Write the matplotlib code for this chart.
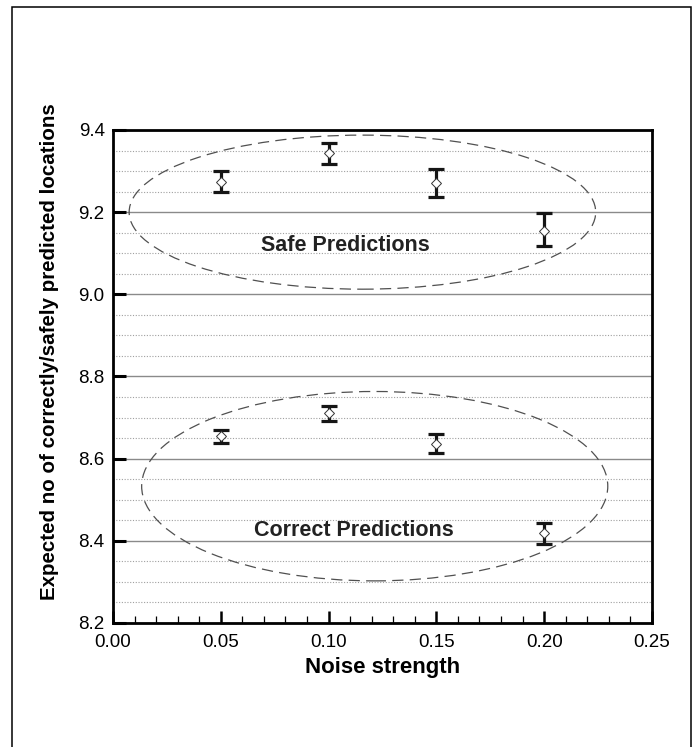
import matplotlib
matplotlib.use("Agg")
import matplotlib.pyplot as plt
from matplotlib.patches import Ellipse, Rectangle
from matplotlib.ticker import MultipleLocator, FormatStrFormatter

plt.rcParams["font.family"] = ["Liberation Sans", "DejaVu Sans"]

noise = [0.05, 0.10, 0.15, 0.20]

safe_mean = [9.274, 9.344, 9.271, 9.155]
safe_low  = [9.248, 9.318, 9.236, 9.117]
safe_high = [9.300, 9.368, 9.304, 9.197]

corr_mean = [8.654, 8.711, 8.636, 8.418]
corr_low  = [8.637, 8.692, 8.614, 8.392]
corr_high = [8.669, 8.728, 8.661, 8.444]

fig = plt.figure(figsize=(6.97, 7.47), dpi=100)
ax = fig.add_axes([0.1621, 0.166, 0.7733, 0.66])

# outer frame around the whole figure
fig.patches.append(Rectangle((0.0172, -0.01), 0.9742, 1.0006, transform=fig.transFigure,
                             fill=False, edgecolor="black", linewidth=1.1))

ax.set_xlim(0.0, 0.25)
ax.set_ylim(8.2, 9.4)
ax.xaxis.set_major_locator(MultipleLocator(0.05))
ax.xaxis.set_minor_locator(MultipleLocator(0.01))
ax.yaxis.set_major_locator(MultipleLocator(0.2))
ax.yaxis.set_minor_locator(MultipleLocator(0.05))

ax.grid(which="major", axis="y", color="#8a8a8a", linestyle="-", linewidth=1.0)
ax.grid(which="minor", axis="y", color="#a0a0a0", linestyle=(0, (1, 1.5)), linewidth=0.8)
ax.set_axisbelow(True)

ax.tick_params(axis="x", which="major", direction="in", length=9, width=1.8,
               labelsize=13.5, pad=8, top=False)
ax.tick_params(axis="x", which="minor", direction="in", length=5, width=0.9, top=False)
ax.tick_params(axis="y", which="major", direction="in", length=9, width=2.2,
               labelsize=13.5, pad=6, right=False)
ax.tick_params(axis="y", which="minor", length=0, right=False, left=False)
ax.xaxis.set_major_formatter(FormatStrFormatter("%.2f"))
ax.yaxis.set_major_formatter(FormatStrFormatter("%.1f"))

for s in ax.spines.values():
    s.set_linewidth(2.0)

def draw_group(means, lows, highs):
    yerr = [[m - l for m, l in zip(means, lows)], [h - m for m, h in zip(means, highs)]]
    ax.errorbar(noise, means, yerr=yerr, fmt="none", ecolor="#151515",
                elinewidth=2.3, capsize=6, capthick=2.3, zorder=3)
    ax.plot(noise, means, linestyle="none", marker="D", markersize=5.5,
            markerfacecolor="white", markeredgecolor="#333333", markeredgewidth=0.7, zorder=4)

draw_group(safe_mean, safe_low, safe_high)
draw_group(corr_mean, corr_low, corr_high)

ax.add_patch(Ellipse((0.1157, 9.200), 0.2164, 0.375, fill=False, edgecolor="#505050",
                     linewidth=0.9, linestyle=(0, (9, 5)), zorder=2))
ax.add_patch(Ellipse((0.1214, 8.533), 0.2162, 0.461, fill=False, edgecolor="#505050",
                     linewidth=0.9, linestyle=(0, (9, 5)), zorder=2))

ax.text(0.108, 9.119, "Safe Predictions", ha="center", va="center",
        fontsize=15.5, fontweight="bold", color="#222222")
ax.text(0.1116, 8.424, "Correct Predictions", ha="center", va="center",
        fontsize=15.5, fontweight="bold", color="#222222")

ax.set_xlabel("Noise strength", fontsize=16, fontweight="bold", labelpad=4)
ax.set_ylabel("Expected no of correctly/safely predicted locations", fontsize=14.8,
              fontweight="bold")
ax.yaxis.set_label_coords(-0.101, 0.55)

fig.savefig("out.png", dpi=100)
